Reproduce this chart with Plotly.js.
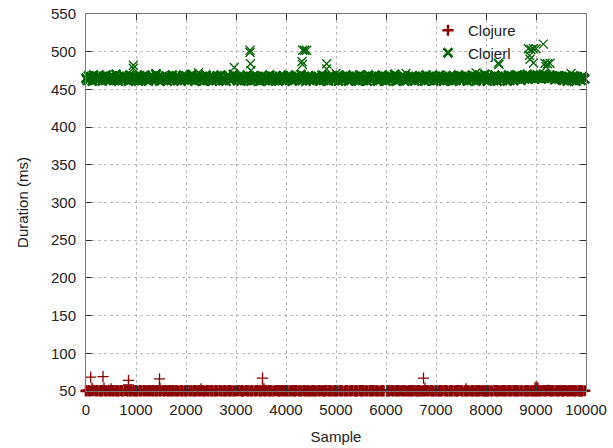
<!DOCTYPE html>
<html>
<head>
<meta charset="utf-8">
<script src="https://cdn.plot.ly/plotly-3.0.1.min.js"></script>
<style>html,body{margin:0;padding:0;background:#fff;}#chart{width:613px;height:448px;}</style>
</head>
<body>
<div id="chart"></div>
<script>
const sampleStep = 25;
const seriesNames = ["Clojure", "Clojerl"];

const clojureBulk = [
50.2,49.8,50.5,50.0,49.7,50.3,50.9,49.9,50.1,50.4,49.6,50.2,50.0,50.6,49.8,50.3,50.1,49.9,50.5,50.0,
49.9,50.4,50.1,49.7,50.6,50.0,50.2,49.8,50.5,50.1,49.9,50.3,50.7,50.0,49.6,50.2,50.4,49.9,50.1,50.3,
50.1,50.0,49.8,50.4,50.2,49.7,50.5,50.1,49.9,50.3,50.0,50.6,49.8,50.2,50.4,49.9,50.1,50.5,49.7,50.2,
50.3,49.9,50.2,50.6,49.8,50.1,50.0,50.4,49.7,50.2,50.5,49.9,50.1,50.3,50.0,49.8,50.6,50.2,49.9,50.1,
50.0,50.5,49.7,50.1,50.3,49.9,50.2,50.6,50.0,49.8,50.4,50.1,49.6,50.3,50.2,50.0,49.9,50.5,50.1,49.8,
50.4,50.1,49.9,50.2,50.0,50.5,49.8,50.3,50.1,49.7,50.2,50.6,50.0,49.9,50.4,50.1,50.3,49.8,50.2,50.0,
49.8,50.3,50.6,49.9,50.1,50.2,50.0,49.7,50.5,50.3,50.1,49.9,50.2,50.4,49.8,50.0,50.3,50.6,49.9,50.2,
50.1,49.9,50.3,50.0,50.5,49.8,50.2,50.4,50.1,49.9,50.0,50.3,49.7,50.5,50.2,50.1,49.8,50.4,50.0,50.3,
50.5,50.2,49.8,50.1,49.9,50.4,50.0,50.2,50.6,49.8,50.3,50.1,50.0,49.9,50.5,50.2,49.7,50.1,50.3,50.0,
49.7,50.1,50.4,50.2,50.0,49.9,50.5,50.1,49.8,50.3,50.2,50.0,50.6,49.9,50.1,50.4,50.2,49.8,50.0,50.5,
50.2,50.0,49.9,50.5,50.1,50.3,49.8,50.0,50.4,50.2,49.9,50.1,50.3,50.6,49.8,50.2,50.0,50.1,49.7,50.4,
50.0,50.4,50.2,49.8,50.3,50.1,49.9,50.5,50.0,50.2,50.4,49.7,50.1,50.3,50.0,49.9,50.2,50.5,50.1,49.8,
49.9,50.2,50.0,50.3,49.7,50.5,50.1,49.9,50.2,50.6,50.0,50.3,49.8,50.1,50.4,50.2,49.9,50.0,50.3,50.1,
50.3,50.1,50.5,49.9,50.2,50.0,50.4,50.1,49.8,50.0,50.3,50.2,49.9,50.5,50.1,49.7,50.4,50.2,50.0,49.9,
50.1,49.8,50.2,50.4,50.0,50.3,49.9,50.6,50.1,50.2,49.8,50.0,50.5,50.1,49.9,50.3,50.0,50.2,50.4,49.7,
50.4,50.0,49.9,50.2,50.5,50.1,50.3,49.8,50.0,50.4,50.2,49.9,50.1,50.0,50.6,50.2,49.8,50.3,50.1,50.0,
50.0,50.3,50.1,49.8,50.2,50.0,49.9,50.4,50.5,50.1,50.0,50.3,49.7,50.2,50.4,50.0,50.1,49.9,50.5,50.2,
50.2,49.9,50.4,50.1,50.0,50.6,50.2,49.8,50.3,50.1,49.9,50.0,50.4,50.2,50.1,49.8,50.3,50.0,50.5,50.1,
50.1,50.4,50.0,50.3,50.2,49.9,50.5,50.1,50.6,50.3,50.7,50.2,50.0,50.4,50.1,49.9,50.3,50.2,50.0,50.4,
49.9,50.2,50.1,50.5,49.8,50.0,50.3,50.1,49.9,50.4,50.2,50.0,50.3,49.8,50.1,50.5,50.0,50.2,49.9,50.3
];

const clojerlBulk = [
465,462,468,464,467,461,469,465,463,467,462,468,465,461,467,464,469,465,462,467,
464,468,462,465,470,463,461,467,465,462,468,464,467,465,461,469,463,467,462,465,
467,463,461,468,465,462,467,469,463,465,461,467,464,468,465,462,470,464,467,461,
462,467,465,463,468,461,465,467,462,469,464,465,468,462,467,464,461,465,469,463,
468,465,462,467,463,470,465,461,467,464,468,462,465,467,461,464,469,465,462,467,
464,461,467,465,462,468,463,467,469,462,465,464,461,468,465,467,462,464,470,465,
467,462,465,468,461,464,467,465,462,469,464,467,461,465,468,462,464,467,465,461,
465,468,463,462,467,465,461,469,464,467,462,465,468,463,461,467,465,462,468,464,
462,465,469,464,467,461,465,462,468,464,467,465,470,462,464,467,461,465,468,462,
467,464,462,465,468,463,467,461,465,469,462,467,464,465,461,468,464,467,462,465,
464,467,461,468,465,462,467,464,469,465,461,467,462,465,468,464,467,462,461,469,
468,462,465,467,464,461,469,465,462,467,464,468,465,461,467,462,465,469,464,467,
461,465,468,462,467,464,465,470,461,467,462,465,464,468,467,461,465,462,467,464,
465,468,464,461,467,465,462,468,464,467,465,461,469,464,462,467,465,468,461,465,
467,462,465,469,464,467,461,465,468,462,465,467,464,461,468,465,462,467,469,463,
462,467,464,465,468,461,467,464,462,469,465,467,461,464,468,465,462,467,464,470,
465,461,468,464,467,462,465,469,464,461,467,465,462,468,464,467,465,461,469,462,
468,465,462,467,464,469,465,467,462,468,465,464,467,470,464,468,465,467,469,464,
467,469,465,468,464,467,470,465,468,467,464,469,465,468,467,463,465,468,464,467,
464,467,462,465,468,461,467,464,465,462,468,465,461,467,464,465,462,467,465,464
];

// Slow runs (outliers): sample number and duration
const clojureOutlierSample = [94,120,340,360,500,850,850,1470,1470,1480,2300,3530,3530,3560,6750,6780,7600,8980,9000,9020,9040];
const clojureOutlierMs     = [68.5,54,69,54,53,64,58,66,55,53,53,67,55,53,67,54,53,54,55.5,55,54];

const clojerlOutlierSample = [946,946,1400,2250,2966,3280,3280,3290,3300,4320,4330,4333,4373,4413,4813,4813,5000,6400,7800,8247,8260,8847,8870,8880,8900,8947,8950,9000,9147,9180,9200,9230,9280,9700];
const clojerlOutlierMs     = [482,478,471,472,479,502,499,484,475,487,483,502,502,502,484,477,471,471,472,485,483,504,495,490,503,504,485,504,510,484.6,480,484,484.6,471];

const xTicks = [0,1000,2000,3000,4000,5000,6000,7000,8000,9000,10000];
const yTicks = [50,100,150,200,250,300,350,400,450,500,550];

function buildSeries(bulk, outX, outY, bulkW, outW) {
  const x = bulk.map((_, i) => i * sampleStep).concat(outX);
  const y = bulk.concat(outY);
  const w = bulk.map(() => bulkW).concat(outX.map(() => outW));
  return {x, y, w};
}

const sClojure = buildSeries(clojureBulk, clojureOutlierSample, clojureOutlierMs, 2.6, 1.3);
const sClojerl = buildSeries(clojerlBulk, clojerlOutlierSample, clojerlOutlierMs, 2.6, 1.3);

const font = {family: "'Liberation Sans', Arial, sans-serif", size: 15, color: "#222"};

const traces = [
  {
    type: "scatter", mode: "markers", name: seriesNames[0],
    x: sClojure.x, y: sClojure.y, cliponaxis: false,
    marker: {symbol: "cross-thin", size: 8, color: "#8b0000", line: {color: "#8b0000", width: sClojure.w}}
  },
  {
    type: "scatter", mode: "markers", name: seriesNames[1],
    x: sClojerl.x, y: sClojerl.y, cliponaxis: false,
    marker: {symbol: "x-thin", size: 9, color: "#006400", line: {color: "#006400", width: sClojerl.w}}
  }
];

const axisCommon = {
  showline: true, linecolor: "#777", linewidth: 1, mirror: "ticks",
  ticks: "inside", ticklen: 6, tickcolor: "#333", tickwidth: 1,
  showgrid: true, gridcolor: "#b8b8b8", griddash: "dot", gridwidth: 1,
  zeroline: false, tickfont: font
};

const layout = {
  width: 613, height: 448,
  margin: {l: 86, r: 27, t: 14, b: 57},
  paper_bgcolor: "#fff", plot_bgcolor: "#fff",
  font: font,
  showlegend: true,
  legend: {x: 0.87, xanchor: "right", y: 1.0, yanchor: "top", bgcolor: "rgba(0,0,0,0)",
           font: font, tracegroupgap: 0, itemwidth: 30},
  xaxis: Object.assign({}, axisCommon, {
    range: [0, 10000], tickvals: xTicks, ticktext: xTicks.map(String),
    ticklabelstandoff: 5,
    title: {text: "Sample", font: font, standoff: 14}
  }),
  yaxis: Object.assign({}, axisCommon, {
    range: [50, 550], tickvals: yTicks, ticktext: yTicks.map(String),
    ticklabelstandoff: 6,
    title: {text: "Duration (ms)", font: font, standoff: 18}
  })
};

Plotly.newPlot("chart", traces, layout, {staticPlot: true, displayModeBar: false});
</script>
</body>
</html>
